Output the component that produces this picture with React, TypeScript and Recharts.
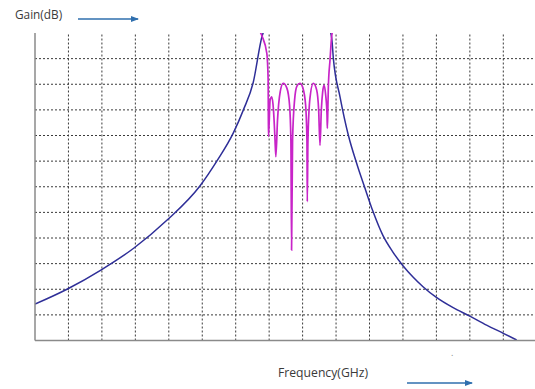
import React from 'react'
import { LineChart, Line, XAxis, YAxis, ReferenceLine } from 'recharts'

// grid units: x = frequency divisions, y = gain divisions (0 = bottom, 12 = top)
const freqGrid = [1, 2, 3, 4, 5, 6, 7, 8, 9, 10, 11, 12, 13, 14]
const gainGrid = [1, 2, 3, 4, 5, 6, 7, 8, 9, 10, 11]

// blue response, lower skirt
const lowFreq = [0, 0.97, 1.97, 2.96, 3.95, 4.93, 5.44, 5.93, 6.23, 6.52, 6.79, 6.91]
const lowGain = [1.42, 2.01, 2.75, 3.61, 4.7, 6.03, 7.01, 8.1, 9.0, 10.05, 11.88, 12.3]

// blue response, upper skirt
const highFreq = [8.76, 8.87, 8.92, 9.12, 9.37, 9.62, 9.85, 10.1, 10.4, 10.7, 11.0, 11.3, 11.6, 12.0, 12.5, 13.0, 13.5, 14.0, 14.4]
const highGain = [12.3, 11.8, 11.0, 9.5, 8.0, 6.9, 6.0, 5.05, 4.1, 3.45, 2.92, 2.48, 2.1, 1.68, 1.28, 0.95, 0.6, 0.28, 0.02]

// magenta passband with ripple and nulls
const passFreq = [
  6.58, 6.79, 6.93, 6.97, 6.975, 6.98, 7.03, 7.08, 7.13, 7.17, 7.2, 7.25, 7.33, 7.42, 7.53, 7.61,
  7.65, 7.67, 7.7, 7.76, 7.83, 7.92, 8.01, 8.09, 8.13, 8.14, 8.16, 8.22, 8.32, 8.42, 8.48, 8.52,
  8.56, 8.6, 8.64, 8.69, 8.73, 8.74, 8.755, 8.77, 8.82, 8.87, 8.97,
]
const passGain = [
  12.3, 11.87, 11.21, 10.17, 8.99, 7.96, 9.39, 9.51, 8.99, 8.0, 7.17, 8.6, 9.7, 10.04, 9.85, 9.19,
  7.82, 3.53, 7.82, 9.38, 9.93, 10.04, 9.85, 9.19, 7.82, 5.42, 7.82, 9.46, 10.04, 9.78, 9.0, 7.62,
  9.0, 9.7, 9.97, 9.58, 8.8, 8.28, 9.0, 9.9, 10.95, 11.88, 12.4,
]

const toRows = (xs: number[], ys: number[]) => xs.map((x, i) => ({ x, y: ys[i] }))

const lowData = toRows(lowFreq, lowGain)
const highData = toRows(highFreq, highGain)
const passData = toRows(passFreq, passGain)

const BLUE = '#2f2f98'
const MAGENTA = '#c824c8'
const ARROW = '#2f6fae'
const GRID = '#3a3a3a'

export default function App() {
  return (
    <div style={{ position: 'absolute', left: 0, top: 0, width: 535, height: 389, overflow: 'hidden', background: '#fff' }}>
      <LineChart width={540} height={389} margin={{ top: 33, right: 3.25, left: 34, bottom: 47.5 }}>
        <XAxis
          type="number" dataKey="x" domain={[0, 15]} allowDataOverflow
          height={1} tick={false} tickLine={false} axisLine={{ stroke: '#8a8a8a', strokeWidth: 1.5 }}
        />
        <YAxis
          type="number" dataKey="y" domain={[0, 12]} allowDataOverflow
          width={1} tick={false} tickLine={false} axisLine={{ stroke: '#8a8a8a', strokeWidth: 1.5 }}
        />
        {/* dotted grid */}
        {gainGrid.map((v) => (
          <ReferenceLine key={`h${v}`} y={v} stroke={GRID} strokeDasharray="2 2" strokeWidth={1} />
        ))}
        {freqGrid.map((v) => (
          <ReferenceLine key={`v${v}`} x={v} stroke={GRID} strokeDasharray="2 2" strokeWidth={1} />
        ))}
        <Line data={lowData} dataKey="y" type="monotone" stroke={BLUE} strokeWidth={1.5} dot={false} isAnimationActive={false} />
        <Line data={highData} dataKey="y" type="monotone" stroke={BLUE} strokeWidth={1.5} dot={false} isAnimationActive={false} />
        <Line data={passData} dataKey="y" type="monotone" stroke={MAGENTA} strokeWidth={1.7} dot={false} isAnimationActive={false} />
      </LineChart>

      <svg width={535} height={389} style={{ position: 'absolute', left: 0, top: 0, pointerEvents: 'none' }}>
        <defs>
          <marker id="head" markerWidth="8" markerHeight="6" refX="7" refY="3" orient="auto" markerUnits="userSpaceOnUse">
            <path d="M0,0 L8,3 L0,6 Z" fill={ARROW} />
          </marker>
        </defs>
        <text x={15} y={19} fontFamily="'Open Sans', sans-serif" fontSize={11.8} fill="#3a3a3a">Gain(dB)</text>
        <line x1={78} y1={19} x2={138} y2={19} stroke={ARROW} strokeWidth={1.5} markerEnd="url(#head)" />
        <text x={278} y={377} fontFamily="'Open Sans', sans-serif" fontSize={12.2} fill="#3a3a3a">Frequency(GHz)</text>
        <line x1={407} y1={383} x2={472} y2={383} stroke={ARROW} strokeWidth={1.5} markerEnd="url(#head)" />
        <text x={451} y={356} fontFamily="'Open Sans', sans-serif" fontSize={9} fill="#888">.</text>
      </svg>
    </div>
  )
}
